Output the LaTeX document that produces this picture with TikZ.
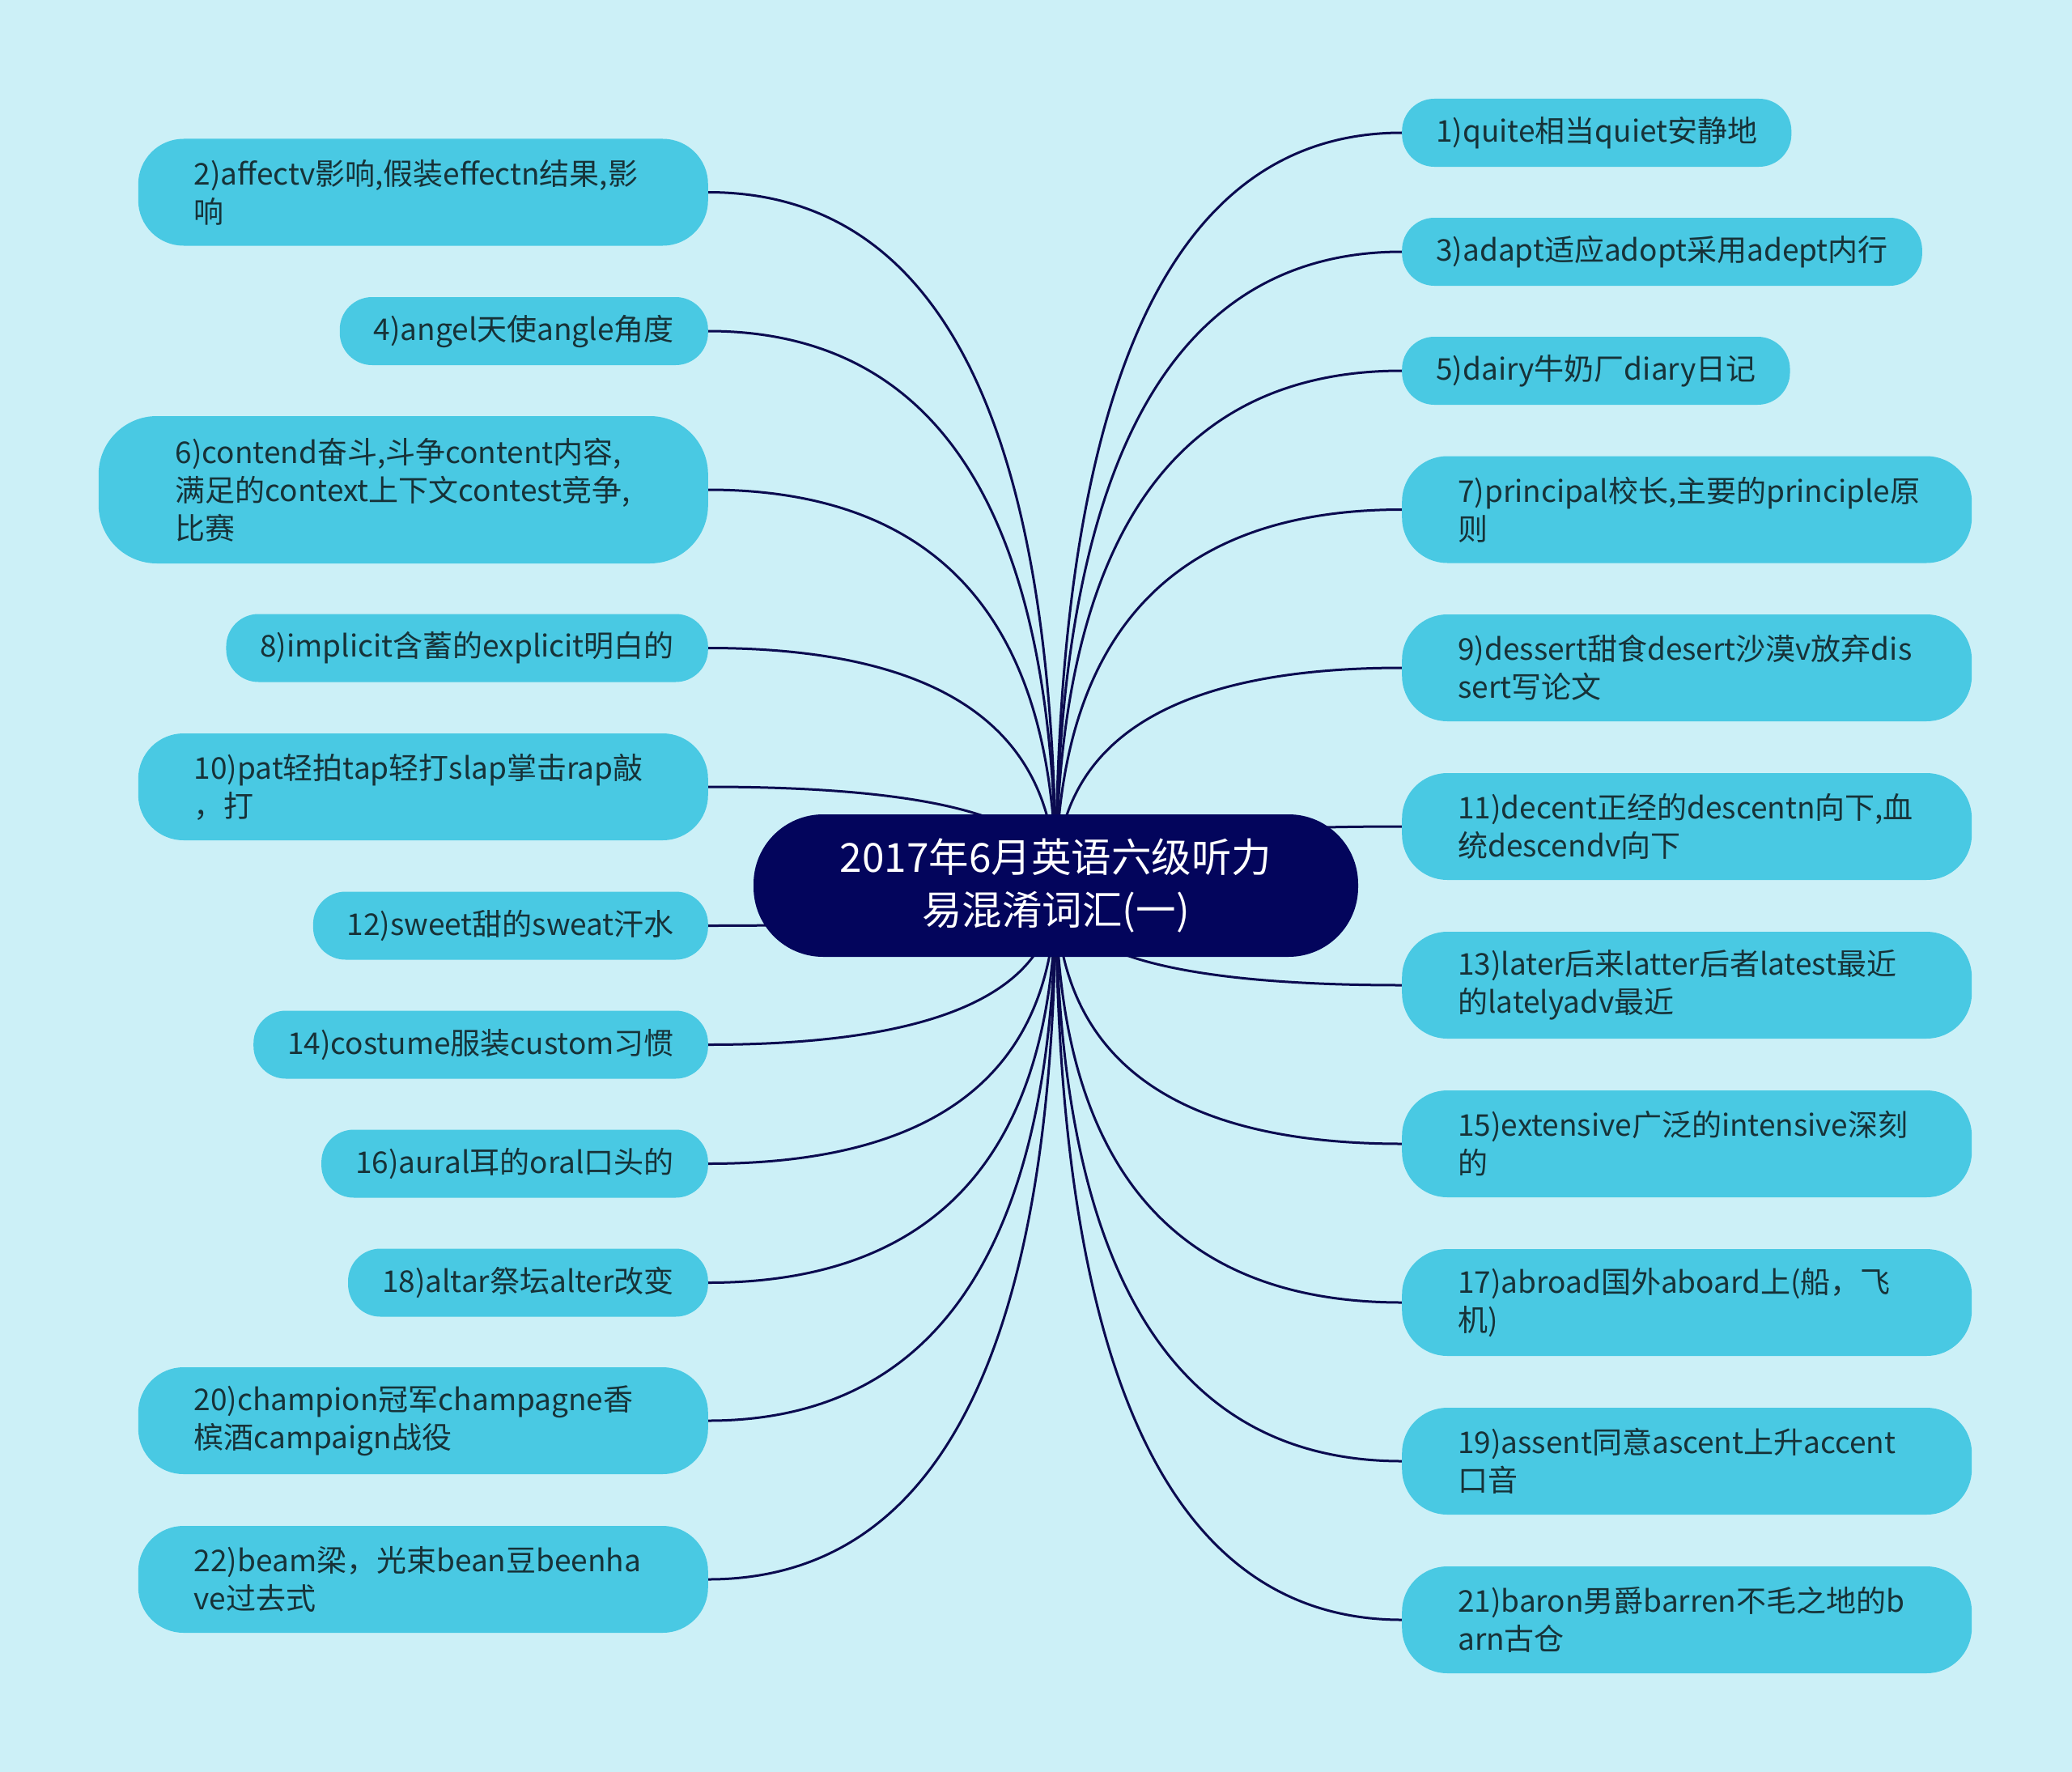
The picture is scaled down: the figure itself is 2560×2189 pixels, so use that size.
\documentclass[tikz,border=0pt]{standalone}
\usepackage{fontspec}
\setmainfont{Noto Sans CJK SC}
\usetikzlibrary{calc,backgrounds}
\definecolor{bgc}{HTML}{CCF0F7}
\definecolor{leaffill}{HTML}{49C9E3}
\definecolor{leaftext}{HTML}{173238}
\definecolor{rootfill}{HTML}{03055C}
\definecolor{linec}{HTML}{0B0B50}
\tikzset{
  leaf/.style={fill=leaffill, text=leaftext, align=left, inner ysep=0pt,
    font=\fontsize{37pt}{47pt}\selectfont},
  oneline/.style={leaf, inner xsep=42pt, minimum height=84pt, rounded corners=40pt},
  twoline/.style={leaf, inner xsep=69pt, text width=566pt, minimum height=132pt, rounded corners=56pt},
  rootbox/.style={fill=rootfill, text=white, align=center, minimum width=747pt,
    minimum height=176pt, rounded corners=86pt, font=\fontsize{49.5pt}{65pt}\selectfont},
  conn/.style={draw=linec, line width=3pt}
}
\begin{document}
\begin{tikzpicture}[x=1pt,y=-1pt]
\useasboundingbox (0,0) rectangle (2560,2189);
% root
\node[rootbox] (c) at (1304.5,1094) {2017年6月英语六级听力\\易混淆词汇(一)};
% left
\node[twoline, anchor=east] (l2) at (875,237.5) {2)affectv影响,假装effectn结果,影\\响};
\node[oneline, anchor=east] (l4) at (875,409) {4)angel天使angle角度};
\node[leaf, anchor=east, inner xsep=95pt, text width=563pt, minimum height=182pt, rounded corners=72pt] (l6) at (875,605) {6)contend奋斗,斗争content内容,\\满足的context上下文contest竞争,\\比赛};
\node[oneline, anchor=east] (l8) at (875,800.5) {8)implicit含蓄的explicit明白的};
\node[twoline, anchor=east] (l10) at (875,972) {10)pat轻拍tap轻打slap掌击rap敲\\，打};
\node[oneline, anchor=east] (l12) at (875,1143.5) {12)sweet甜的sweat汗水};
\node[oneline, anchor=east] (l14) at (875,1290.5) {14)costume服装custom习惯};
\node[oneline, anchor=east] (l16) at (875,1437.5) {16)aural耳的oral口头的};
\node[oneline, anchor=east] (l18) at (875,1584.5) {18)altar祭坛alter改变};
\node[twoline, anchor=east] (l20) at (875,1755) {20)champion冠军champagne香\\槟酒campaign战役};
\node[twoline, anchor=east] (l22) at (875,1951) {22)beam梁，光束bean豆beenha\\ve过去式};
% right
\node[oneline, anchor=west] (r1) at (1732,164) {1)quite相当quiet安静地};
\node[oneline, anchor=west] (r3) at (1732,311) {3)adapt适应adopt采用adept内行};
\node[oneline, anchor=west] (r5) at (1732,458) {5)dairy牛奶厂diary日记};
\node[twoline, anchor=west] (r7) at (1732,629.5) {7)principal校长,主要的principle原\\则};
\node[twoline, anchor=west] (r9) at (1732,825) {9)dessert甜食desert沙漠v放弃dis\\sert写论文};
\node[twoline, anchor=west] (r11) at (1732,1021) {11)decent正经的descentn向下,血\\统descendv向下};
\node[twoline, anchor=west] (r13) at (1732,1217) {13)later后来latter后者latest最近\\的latelyadv最近};
\node[twoline, anchor=west] (r15) at (1732,1413) {15)extensive广泛的intensive深刻\\的};
\node[twoline, anchor=west] (r17) at (1732,1609) {17)abroad国外aboard上(船，飞\\机)};
\node[twoline, anchor=west] (r19) at (1732,1805) {19)assent同意ascent上升accent\\口音};
\node[twoline, anchor=west] (r21) at (1732,2001) {21)baron男爵barren不毛之地的b\\arn古仓};
% background and connectors
\begin{pgfonlayer}{background}
\fill[bgc] (0,0) rectangle (2560,2189);
\foreach \n in {l2,l4,l6,l8,l10,l12,l14,l16,l18,l20,l22} {
  \draw[conn] (c.center) .. controls ($(c.center)!0.6667!(c.center |- \n.east)$)
     and ($(\n.east)!0.6667!(c.center |- \n.east)$) .. (\n.east);
}
\foreach \n in {r1,r3,r5,r7,r9,r11,r13,r15,r17,r19,r21} {
  \draw[conn] (c.center) .. controls ($(c.center)!0.6667!(c.center |- \n.west)$)
     and ($(\n.west)!0.6667!(c.center |- \n.west)$) .. (\n.west);
}
\end{pgfonlayer}
\end{tikzpicture}
\end{document}
